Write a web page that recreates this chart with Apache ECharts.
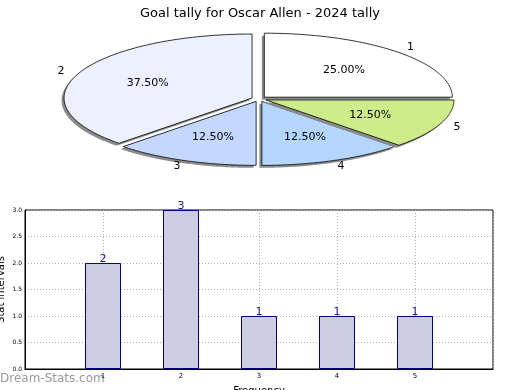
<!DOCTYPE html>
<html><head><meta charset="utf-8">
<script src="https://cdn.jsdelivr.net/npm/echarts@6/dist/echarts.min.js"></script>
<style>html,body{margin:0;padding:0;background:#fff}#c{width:520px;height:390px}</style>
</head><body><div id="c"></div>
<script>
var pieLabels = ['1','2','3','4','5'];
var pieValues = [2,3,1,1,1];
var pieColors = ['#ffffff','#ebf1ff','#c4d8ff','#b4d6ff','#cfec8a'];
var barCats = [1,2,3,4,5];
var barValues = [2,3,1,1,1];
var titleText = 'Goal tally for Oscar Allen - 2024 tally';

var total = pieValues.reduce(function(a,b){return a+b;},0);
var cx = 259, cy = 99, ra = 188, rb = 64, ex = 0.04;

function pieItem(params, api) {
  var i = params.dataIndex;
  var before = 0;
  for (var k = 0; k < i; k++) before += pieValues[k];
  var a0 = before / total * 2 * Math.PI;
  var a1 = (before + pieValues[i]) / total * 2 * Math.PI;
  var am = (a0 + a1) / 2;
  var ox = cx + ex * ra * Math.cos(am), oy = cy - ex * rb * Math.sin(am);
  var pts = [[ox, oy]], sh = [[ox - 2.5, oy + 2.5]];
  var n = 80;
  for (var s = 0; s <= n; s++) {
    var t = a0 + (a1 - a0) * s / n;
    var px = ox + ra * Math.cos(t), py = oy - rb * Math.sin(t);
    pts.push([px, py]);
    sh.push([px - 2.5, py + 2.5]);
  }
  var pct = (pieValues[i] / total * 100).toFixed(2) + '%';
  return {
    type: 'group',
    children: [
      {type: 'polygon', shape: {points: sh}, style: {fill: '#8c8c8c', stroke: null}},
      {type: 'polygon', shape: {points: pts},
       style: {fill: pieColors[i], stroke: '#000', lineWidth: 0.8}},
      {type: 'text', x: ox + 1.1 * ra * Math.cos(am), y: oy - 1.1 * rb * Math.sin(am),
       style: {text: pieLabels[i], align: 'center', verticalAlign: 'middle', fontSize: 11, fontFamily: 'DejaVu Sans', fill: '#000'}},
      {type: 'text', x: ox + 0.6 * ra * Math.cos(am), y: oy - 0.6 * rb * Math.sin(am),
       style: {text: pct, align: 'center', verticalAlign: 'middle', fontSize: 11, fontFamily: 'DejaVu Sans', fill: '#000'}}
    ]
  };
}

var chart = echarts.init(document.getElementById('c'), null, {renderer: 'canvas'});
chart.setOption({
  animation: false,
  textStyle: {fontFamily: 'DejaVu Sans'},
  title: {text: titleText, left: 'center', top: 2,
          textStyle: {fontSize: 13, fontWeight: 'normal', color: '#000', fontFamily: 'DejaVu Sans'}},
  grid: {left: 25, right: 27, top: 210, bottom: 21, containLabel: false, outerBoundsMode: 'none',
         show: true, borderColor: '#000', borderWidth: 1, backgroundColor: 'transparent'},
  xAxis: {type: 'value', min: 0, max: 6, interval: 1,
          name: 'Frequency', nameLocation: 'middle', nameGap: 17, nameMoveOverlap: false,
          nameTextStyle: {fontSize: 10, color: '#000'},
          axisLine: {show: true, lineStyle: {color: '#000'}},
          axisTick: {show: false},
          axisLabel: {fontSize: 7, color: '#000', margin: 4,
                      formatter: function(v){ return barCats.indexOf(v) >= 0 ? String(v) : ''; }},
          splitLine: {show: true, lineStyle: {color: '#b0b0b0', type: [1, 2], width: 1}}},
  yAxis: {type: 'value', min: 0, max: 3, interval: 0.5,
          name: 'Stat intervals', nameLocation: 'middle', nameGap: 19, nameRotate: 90, nameMoveOverlap: false,
          nameTextStyle: {fontSize: 10, color: '#000'},
          axisLine: {show: true, lineStyle: {color: '#000'}},
          axisTick: {show: false},
          axisLabel: {fontSize: 6, color: '#000', margin: 3, formatter: function(v){ return v.toFixed(1); }},
          splitLine: {show: true, lineStyle: {color: '#b0b0b0', type: [1, 2], width: 1}}},
  graphic: [{type: 'text', left: 0, top: 373,
             style: {text: 'Dream-Stats.com', fontSize: 12, fontFamily: 'DejaVu Sans', fill: '#999'}}],
  series: [
    {type: 'custom', coordinateSystem: 'none', renderItem: pieItem, data: pieValues, silent: true},
    {type: 'bar', barWidth: 36,
     data: barCats.map(function(c, i){ return [c, barValues[i]]; }),
     itemStyle: {color: '#ccccE3', borderColor: '#000080', borderWidth: 1},
     label: {show: true, position: 'top', distance: -2, fontSize: 11, color: '#1a1a8c'}}
  ]
});
</script></body></html>
